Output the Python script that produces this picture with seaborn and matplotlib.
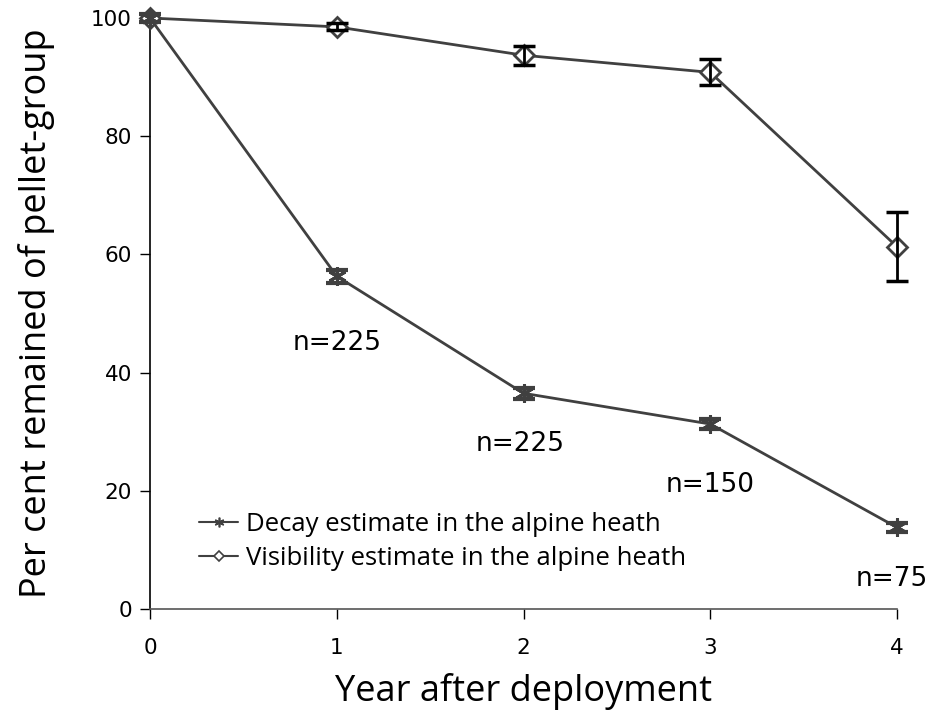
import matplotlib
matplotlib.use("Agg")
import matplotlib.pyplot as plt
import seaborn as sns
import pandas as pd
import numpy as np
from matplotlib.lines import Line2D

years = [0, 1, 2, 3, 4]
decay = [100, 56.3, 36.5, 31.3, 13.8]
decay_err = [0.6, 1.1, 0.9, 0.9, 0.8]
visibility = [100, 98.5, 93.7, 90.8, 61.3]
vis_err = [0.3, 0.6, 1.6, 2.2, 5.8]
n_labels = ["n=225", "n=225", "n=150", "n=75"]
n_x = [1.0, 1.98, 3.0, 3.97]
n_y = [45.0, 28.0, 21.0, 5.0]
series_names = ["Decay estimate in the alpine heath", "Visibility estimate in the alpine heath"]

sns.set_style("white")
plt.rcParams['font.family'] = ['DejaVu Sans']
plt.rcParams['text.color'] = 'black'
plt.rcParams['axes.labelcolor'] = 'black'
plt.rcParams['xtick.color'] = 'black'
plt.rcParams['ytick.color'] = 'black'

fig = plt.figure(figsize=(9.29, 7.12), dpi=100)
ax = fig.add_axes([150/929, 1-609/712, (897-150)/929, (609-18)/712])

line_color = "#404040"
df = pd.DataFrame({"year": years * 2,
                   "value": decay + visibility,
                   "series": [series_names[0]] * 5 + [series_names[1]] * 5})

ast = (6, 2, 0)
sns.lineplot(data=df[df.series == series_names[1]], x="year", y="value", ax=ax,
             color=line_color, linewidth=2, marker="D", markersize=10,
             markerfacecolor="white", markeredgecolor=line_color, markeredgewidth=2,
             clip_on=False, zorder=3)
sns.lineplot(data=df[df.series == series_names[0]], x="year", y="value", ax=ax,
             color=line_color, linewidth=2, marker=ast, markersize=13,
             markeredgecolor=line_color, markeredgewidth=2.2, clip_on=False, zorder=3)

ax.errorbar(years, decay, yerr=decay_err, fmt="none", ecolor=line_color, elinewidth=2,
            capsize=8, capthick=3, clip_on=False, zorder=4)
ax.errorbar(years[1:], visibility[1:], yerr=vis_err[1:], fmt="none", ecolor="black", elinewidth=2,
            capsize=8, capthick=2.5, clip_on=False, zorder=4)

for t, xx, yy in zip(n_labels, n_x, n_y):
    ax.text(xx, yy, t, ha="center", va="center", fontsize=19, family="DejaVu Sans", color="black")

ax.set_xlim(0, 4)
ax.set_ylim(0, 100)
ax.set_xticks(years)
ax.set_yticks([0, 20, 40, 60, 80, 100])
ax.tick_params(axis="both", labelsize=15.5, length=7, width=1, direction="out",
               left=True, bottom=True)
ax.tick_params(axis="y", pad=6)
ax.tick_params(axis="x", pad=14)
for s in ["top", "right"]:
    ax.spines[s].set_visible(False)
ax.spines["left"].set_color("black")
ax.spines["left"].set_linewidth(1.2)
ax.spines["bottom"].set_color("#555555")
ax.spines["bottom"].set_linewidth(1.2)

ax.set_xlabel("Year after deployment", fontsize=26, family="Open Sans", labelpad=11)
ax.set_ylabel("Per cent remained of pellet-group", fontsize=26, family="Open Sans", labelpad=26)

handles = [Line2D([], [], color=line_color, linewidth=1.5, marker=ast, markersize=7,
                  markeredgecolor=line_color, markeredgewidth=1.2),
           Line2D([], [], color=line_color, linewidth=1.5, marker="D", markersize=5,
                  markerfacecolor="white", markeredgecolor=line_color, markeredgewidth=1.2)]
ax.legend(handles, series_names, loc="lower left", bbox_to_anchor=(0.035, 0.025),
          frameon=False, prop={"family": "Open Sans", "size": 18.5},
          handlelength=1.5, handletextpad=0.3, labelspacing=0.37)

fig.savefig("out.png", dpi=100)
